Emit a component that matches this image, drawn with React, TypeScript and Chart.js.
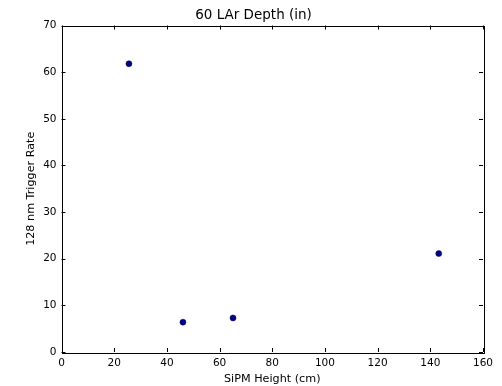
import React, { useEffect, useRef } from "react";
import { Chart, registerables } from "chart.js";

Chart.register(...registerables);

const sipmHeight = [25.6, 46.1, 65.1, 143.2];
const triggerRate = [61.8, 6.4, 7.3, 21.1];
const xTicks = [0, 20, 40, 60, 80, 100, 120, 140, 160];
const yTicks = [0, 10, 20, 30, 40, 50, 60, 70];

const FONT = "'DejaVu Sans', sans-serif";

const inwardTicks = {
  id: "inwardTicks",
  afterDatasetsDraw(chart: any) {
    const { ctx, chartArea } = chart;
    const xs = chart.scales.x;
    const ys = chart.scales.y;
    const L = 4;
    ctx.save();
    ctx.strokeStyle = "#000";
    ctx.lineWidth = 1;
    ctx.beginPath();
    xTicks.forEach((v) => {
      const px = Math.round(xs.getPixelForValue(v)) + 0.5;
      ctx.moveTo(px, chartArea.bottom);
      ctx.lineTo(px, chartArea.bottom - L);
      ctx.moveTo(px, chartArea.top);
      ctx.lineTo(px, chartArea.top + L);
    });
    yTicks.forEach((v) => {
      const py = Math.round(ys.getPixelForValue(v)) + 0.5;
      ctx.moveTo(chartArea.left, py);
      ctx.lineTo(chartArea.left + L, py);
      ctx.moveTo(chartArea.right, py);
      ctx.lineTo(chartArea.right - L, py);
    });
    ctx.stroke();
    ctx.strokeRect(
      Math.round(chartArea.left) + 0.5,
      Math.round(chartArea.top) + 0.5,
      Math.round(chartArea.right - chartArea.left),
      Math.round(chartArea.bottom - chartArea.top)
    );
    ctx.restore();
  },
};

export default function App() {
  const ref = useRef<HTMLCanvasElement | null>(null);
  useEffect(() => {
    if (!ref.current) return;
    const chart = new Chart(ref.current, {
      type: "scatter",
      data: {
        datasets: [
          {
            data: sipmHeight.map((x, i) => ({ x, y: triggerRate[i] })),
            backgroundColor: "#00008b",
            borderColor: "#000033",
            borderWidth: 0.5,
            pointRadius: 3,
          },
        ],
      },
      options: {
        animation: false,
        responsive: false,
        devicePixelRatio: 1,
        layout: { padding: { left: 24, right: 19, top: 0, bottom: 0 } },
        plugins: {
          legend: { display: false },
          tooltip: { enabled: false },
          title: {
            display: true,
            text: "60 LAr Depth (in)",
            color: "#000",
            font: { family: FONT, size: 13.5, weight: "normal" },
            padding: { top: 7.5, bottom: 1.8 },
          },
        },
        scales: {
          x: {
            type: "linear",
            min: 0,
            max: 160,
            afterFit(scale: any) {
              scale.height = 34;
            },
            ticks: {
              stepSize: 20,
              color: "#000",
              font: { family: FONT, size: 10.5 },
              padding: 4.5,
              maxRotation: 0,
              autoSkip: false,
            },
            grid: { display: false, drawTicks: false },
            border: { display: false },
            title: {
              display: true,
              text: "SiPM Height (cm)",
              color: "#000",
              font: { family: FONT, size: 11.2 },
              padding: 0,
            },
          },
          y: {
            type: "linear",
            min: 0,
            max: 70,
            afterFit(scale: any) {
              scale.width = 37.5;
            },
            ticks: {
              stepSize: 10,
              color: "#000",
              font: { family: FONT, size: 10.5 },
              padding: 5,
              autoSkip: false,
            },
            grid: { display: false, drawTicks: false },
            border: { display: false },
            title: {
              display: true,
              text: "128 nm Trigger Rate",
              color: "#000",
              font: { family: FONT, size: 11.2 },
              padding: 0,
            },
          },
        },
      },
      plugins: [inwardTicks],
    });
    return () => chart.destroy();
  }, []);
  return (
    <div style={{ position: "absolute", left: 0, top: 0, width: 502, height: 386, background: "#fff" }}>
      <canvas ref={ref} width={502} height={386} />
    </div>
  );
}
